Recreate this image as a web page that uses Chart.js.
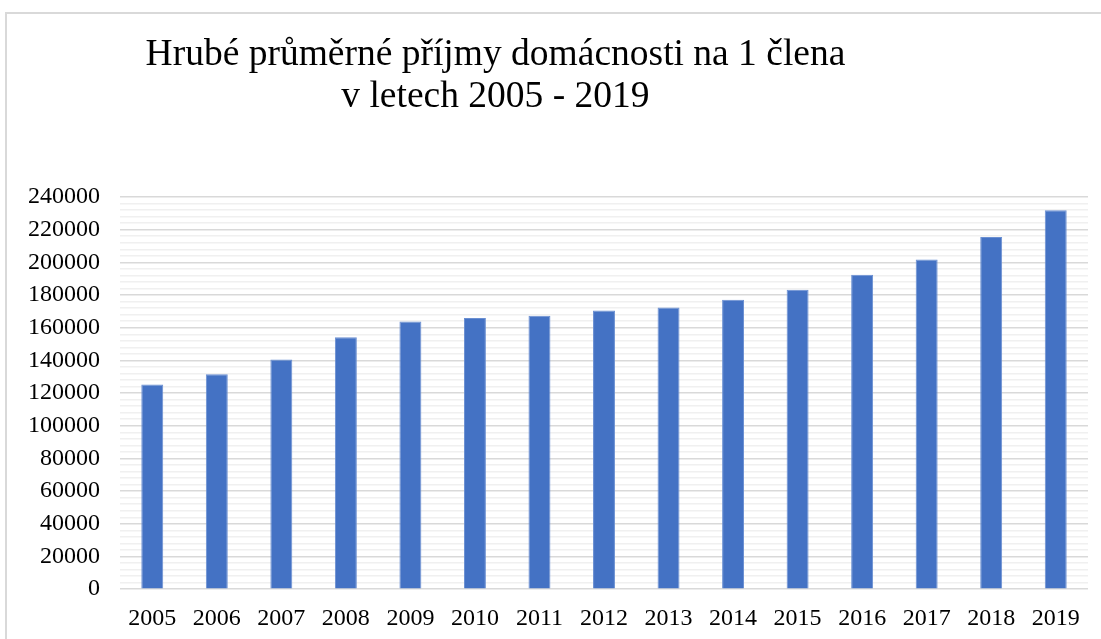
<!DOCTYPE html>
<html>
<head>
<meta charset="utf-8">
<script src="https://cdn.jsdelivr.net/npm/chart.js@4"></script>
<style>
  body { margin: 0; background: #fff; }
  .wrap { position: relative; width: 1101px; height: 639px; overflow: hidden; }
  .frame { position: absolute; left: 5px; top: 12px; width: 1200px; height: 700px;
           border-left: 2px solid #d9d9d9; border-top: 2px solid #d9d9d9; }
  canvas { position: absolute; left: 0; top: 0; }
</style>
</head>
<body>
<div class="wrap">
  <div class="frame"></div>
  <canvas id="chart" width="1101" height="640"></canvas>
</div>
<script>
const years = ['2005', '2006', '2007', '2008', '2009', '2010', '2011', '2012',
               '2013', '2014', '2015', '2016', '2017', '2018', '2019'];
const incomes = [125200, 131600, 140600, 154100, 163800, 165900, 167300, 170600,
                 172400, 177100, 183200, 192400, 201800, 215500, 231900];
const titleLines = ['Hrubé průměrné příjmy domácnosti na 1 člena', 'v letech 2005 - 2019'];

const serif = '"Liberation Serif", "Times New Roman", serif';

// nadpis je v originale posunuty doleva, proto vlastni kresleni
const titlePlugin = {
    id: 'ownTitle',
    afterDraw(chart) {
        const ctx = chart.ctx;
        ctx.save();
        ctx.fillStyle = '#000';
        ctx.font = '37.5px ' + serif;
        ctx.textAlign = 'center';
        ctx.textBaseline = 'alphabetic';
        const cx = chart.width * 0.45;
        ctx.fillText(titleLines[0], cx, 65);
        ctx.fillText(titleLines[1], cx, 107);
        ctx.restore();
    }
};

const ctx = document.getElementById('chart').getContext('2d');
new Chart(ctx, {
    type: 'bar',
    data: {
        labels: years,
        datasets: [{
            data: incomes,
            backgroundColor: '#4472C4',
            borderColor: '#6a8fd2',
            borderWidth: 1,
            barPercentage: 0.34,
            categoryPercentage: 1
        }]
    },
    options: {
        responsive: false,
        animation: false,
        layout: { padding: { top: 197, left: 8, right: 13, bottom: 0 } },
        plugins: {
            legend: { display: false },
            tooltip: { enabled: false }
        },
        scales: {
            y: {
                min: 0,
                max: 240000,
                border: { display: false },
                grid: {
                    drawTicks: false,
                    color: c => (c.tick.value % 20000 === 0 ? '#d9d9d9' : '#f0f0f0'),
                    lineWidth: 1.5
                },
                ticks: {
                    stepSize: 4000,
                    autoSkip: false,
                    padding: 20,
                    color: '#000',
                    font: { family: serif, size: 24 },
                    callback: v => (v % 20000 === 0 ? String(v) : '')
                }
            },
            x: {
                border: { display: false },
                grid: { display: false },
                ticks: {
                    color: '#000',
                    padding: 7,
                    font: { family: serif, size: 24 }
                }
            }
        }
    },
    plugins: [titlePlugin]
});
</script>
</body>
</html>
